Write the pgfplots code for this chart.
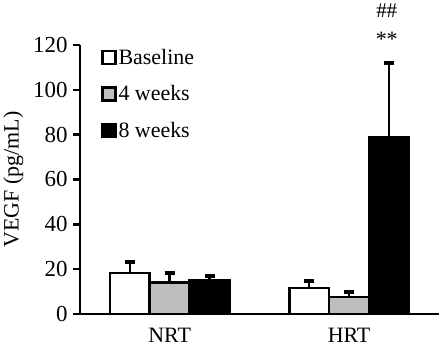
\documentclass[border=0pt]{standalone}
\usepackage{pgfplots}
\pgfplotsset{compat=1.18}
\usepackage{fontspec}
\setmainfont{Liberation Serif}
\definecolor{barGray}{RGB}{190,190,190}
\begin{document}
\begin{tikzpicture}
\begin{axis}[
  scale only axis,
  width=360pt, height=270pt,
  ybar=0pt, bar width=40pt,
  xmin=-0.5, xmax=1.5,
  ymin=0, ymax=120,
  xtick={0,1}, xticklabels={NRT,HRT},
  ytick={0,20,40,60,80,100,120},
  axis x line*=bottom, axis y line*=left,
  axis line style={line width=2.5pt},
  x tick style={draw=none},
  y tick style={line width=2.5pt, black},
  tick align=outside, major tick length=7pt,
  yticklabel style={xshift=-2pt, font=\fontsize{23}{27}\selectfont},
  xticklabel style={yshift=-4pt, font=\fontsize{22}{26}\selectfont},
  /pgf/number format/assume math mode=true,
  ylabel={VEGF (pg/mL)},
  ylabel style={font=\fontsize{22}{26}\selectfont, yshift=3pt},
  clip=false,
  error bars/y dir=plus, error bars/y explicit,
  error bars/error bar style={line width=2.5pt, black},
  error bars/error mark options={rotate=90, mark size=5pt, line width=4pt, black},
  legend style={draw=none, fill=none, at={(axis cs:-0.5,120)}, anchor=north west,
    font=\fontsize{22}{26}\selectfont, row sep=16pt, inner xsep=2pt, inner ysep=0pt,
    xshift=19pt, yshift=-2pt},
  legend cell align=left,
  legend image code/.code={\draw[#1, line width=2.5pt] (0pt,-6.5pt) rectangle (13pt,6.5pt);},
]
\addplot[draw=black, fill=white, line width=2.5pt] coordinates {(0,18.2) +- (0,4.8) (1,11.5) +- (0,3.2)};
\addplot[draw=black, fill=barGray, line width=2.5pt] coordinates {(0,14) +- (0,4.2) (1,7.5) +- (0,2.3)};
\addplot[draw=black, fill=black, line width=2.5pt] coordinates {(0,15) +- (0,2) (1,79) +- (0,33)};
\legend{Baseline,4 weeks,8 weeks}
\node[font=\fontsize{22}{26}\selectfont] at (axis cs:1.21,122.5) {**};
\node[font=\fontsize{21}{24}\selectfont] at (axis cs:1.21,135.5) {\#\#};
\end{axis}
\end{tikzpicture}
\end{document}
